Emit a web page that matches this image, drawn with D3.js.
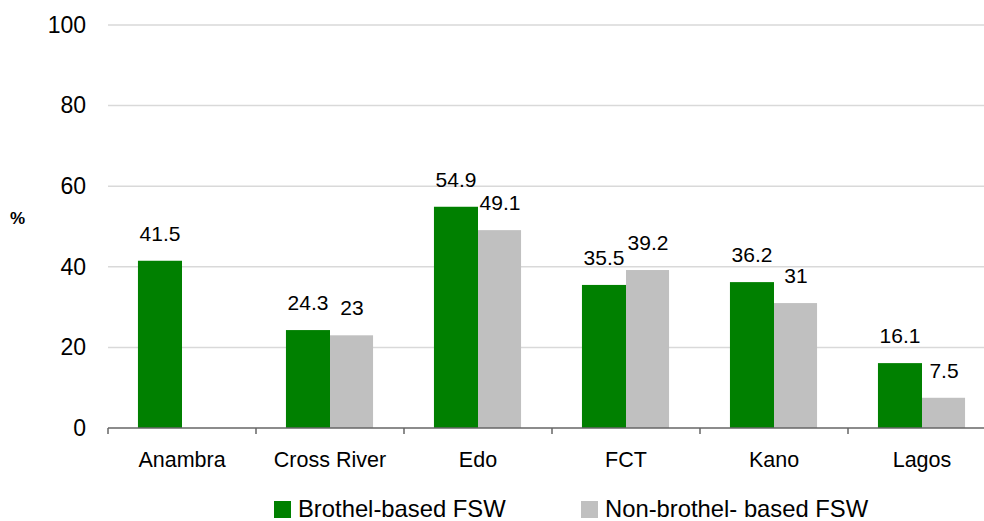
<!DOCTYPE html>
<html>
<head>
<meta charset="utf-8">
<script src="https://cdn.jsdelivr.net/npm/d3@7"></script>
<style>
body { margin: 0; background: #fff; }
svg text { font-family: "Liberation Sans", Arial, sans-serif; fill: #000; }
</style>
</head>
<body>
<svg id="chart" width="984" height="521"></svg>
<script>
var states = ["Anambra", "Cross River", "Edo", "FCT", "Kano", "Lagos"];
var seriesNames = ["Brothel-based FSW", "Non-brothel- based FSW"];
var brothel = [41.5, 24.3, 54.9, 35.5, 36.2, 16.1];
var nonBrothel = [null, 23, 49.1, 39.2, 31, 7.5];
var yTicks = [0, 20, 40, 60, 80, 100];
var colors = ["#008000", "#c0c0c0"];

var svg = d3.select("#chart");

var x = d3.scaleBand().domain(states).range([108, 996]).padding(0);
var inner = d3.scaleBand().domain([0, 1]).range([0, x.bandwidth()]).paddingInner(0).paddingOuter(0.68);
var y = d3.scaleLinear().domain([0, 100]).range([428, 25]);

//grid
svg.append("g")
	.selectAll("line")
	.data(yTicks.slice(1))
	.join("line")
	.attr("x1", 108)
	.attr("x2", 984)
	.attr("y1", d => y(d))
	.attr("y2", d => y(d))
	.attr("stroke", "#d9d9d9")
	.attr("stroke-width", 1.5);

//y labels
var yAxis = svg.append("g")
	.attr("transform", "translate(108,0)")
	.call(d3.axisLeft(y).tickValues(yTicks).tickSize(0).tickPadding(22));
yAxis.select(".domain").remove();
yAxis.selectAll("text")
	.attr("font-size", 23)
	.attr("font-family", "Liberation Sans, Arial, sans-serif")
	.attr("fill", "#000");

svg.append("text")
	.attr("x", 10)
	.attr("y", 224)
	.attr("font-size", 17)
	.attr("font-weight", "bold")
	.text("%");

//bars
var rows = states.map(function(s, i){
	return {state: s, values: [brothel[i], nonBrothel[i]]};
});

var groups = svg.append("g")
	.selectAll("g")
	.data(rows)
	.join("g")
	.attr("transform", d => `translate(${x(d.state)},0)`);

var cells = groups.selectAll("g")
	.data(d => d.values.map((v, k) => ({k: k, v: v})).filter(d => d.v != null))
	.join("g");

cells.append("rect")
	.attr("x", d => inner(d.k))
	.attr("width", d => inner.bandwidth() - d.k)
	.attr("y", d => y(d.v))
	.attr("height", d => y(0) - y(d.v))
	.attr("fill", d => colors[d.k]);

cells.append("text")
	.attr("x", d => inner(d.k) + inner.bandwidth() / 2)
	.attr("y", d => y(d.v) - 20)
	.attr("text-anchor", "middle")
	.attr("font-size", 21)
	.text(d => d.v);

//x axis
var xAxis = svg.append("g")
	.attr("transform", "translate(0,428)");
xAxis.append("line")
	.attr("x1", 108)
	.attr("x2", 984)
	.attr("stroke", "#666")
	.attr("stroke-width", 1.5);
xAxis.selectAll(".tk")
	.data(states)
	.join("line")
	.attr("class", "tk")
	.attr("x1", d => x(d))
	.attr("x2", d => x(d))
	.attr("y1", 0)
	.attr("y2", 6)
	.attr("stroke", "#666")
	.attr("stroke-width", 1.5);
xAxis.selectAll(".lbl")
	.data(states)
	.join("text")
	.attr("class", "lbl")
	.attr("x", d => x(d) + x.bandwidth() / 2)
	.attr("y", 39)
	.attr("text-anchor", "middle")
	.attr("font-size", 21.5)
	.text(d => d);

//legend
var legendX = [274, 581];
var legend = svg.append("g")
	.selectAll("g")
	.data(seriesNames)
	.join("g")
	.attr("transform", (d, i) => `translate(${legendX[i]},0)`);
legend.append("rect")
	.attr("x", 0)
	.attr("y", 501)
	.attr("width", 17)
	.attr("height", 17)
	.attr("fill", (d, i) => colors[i]);
legend.append("text")
	.attr("x", 24)
	.attr("y", 517)
	.attr("font-size", 23.8)
	.text(d => d);
</script>
</body>
</html>
